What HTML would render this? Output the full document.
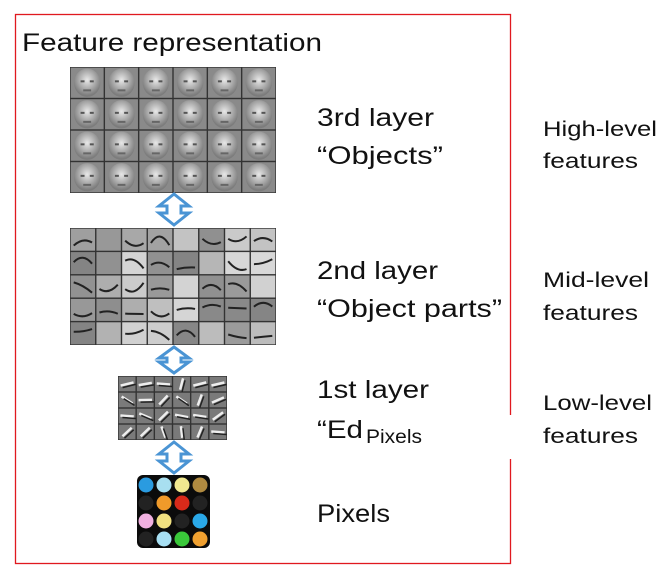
<!DOCTYPE html>
<html><head><meta charset="utf-8"><style>
html,body{margin:0;padding:0;background:#fff;}
svg{display:block;}
text{font-family:"Liberation Sans",sans-serif;fill:#111;}
</style></head><body>
<svg id="s" width="670" height="579" viewBox="0 0 670 579" xmlns="http://www.w3.org/2000/svg">
<defs>
<radialGradient id="face" cx="0.5" cy="0.4" r="0.55"><stop offset="0" stop-color="#e8e8e8"/><stop offset="0.6" stop-color="#a8a8a8"/><stop offset="1" stop-color="#7c7c7c"/></radialGradient>
<radialGradient id="part" cx="0.5" cy="0.5" r="0.6"><stop offset="0" stop-color="#c8c8c8"/><stop offset="1" stop-color="#8a8a8a"/></radialGradient>
</defs>
<rect x="15.5" y="14.5" width="495" height="549" fill="none" stroke="#e0191f" stroke-width="1.3"/>
<text x="22" y="51" font-size="25" textLength="300" lengthAdjust="spacingAndGlyphs">Feature representation</text>
<g id="faces"></g>
<g id="parts"></g>
<g id="edges"></g>
<g id="pix"></g>
<g fill="#fff" stroke="#4a94d4" stroke-width="3" stroke-linejoin="miter">
<path d="M174,194 L189,206 L181,206 L181,213 L189,213 L174,225 L159,213 L167,213 L167,206 L159,206 Z"/>
<path d="M174,347 L189,358 L181,358 L181,362 L189,362 L174,373 L159,362 L167,362 L167,358 L159,358 Z"/>
<path d="M174,442 L189,454 L181,454 L181,461 L189,461 L174,473 L159,461 L167,461 L167,454 L159,454 Z"/>
</g>
<text x="317" y="126" font-size="25" textLength="117" lengthAdjust="spacingAndGlyphs">3rd layer</text>
<text x="317" y="164" font-size="25" textLength="126" lengthAdjust="spacingAndGlyphs">“Objects”</text>
<text x="317" y="279" font-size="25" textLength="121" lengthAdjust="spacingAndGlyphs">2nd layer</text>
<text x="317" y="317" font-size="25" textLength="185" lengthAdjust="spacingAndGlyphs">“Object parts”</text>
<text x="317" y="398" font-size="25" textLength="112" lengthAdjust="spacingAndGlyphs">1st layer</text>
<text x="317" y="438" font-size="25" textLength="46" lengthAdjust="spacingAndGlyphs">“Ed</text>
<rect x="365" y="415" width="150" height="44" fill="#fff"/>
<text x="366" y="443" font-size="19" textLength="56" lengthAdjust="spacingAndGlyphs">Pixels</text>
<text x="317" y="522" font-size="25" textLength="73" lengthAdjust="spacingAndGlyphs">Pixels</text>
<text x="543" y="136" font-size="21" textLength="114" lengthAdjust="spacingAndGlyphs">High-level</text>
<text x="543" y="168" font-size="21" textLength="95" lengthAdjust="spacingAndGlyphs">features</text>
<text x="543" y="287" font-size="21" textLength="106" lengthAdjust="spacingAndGlyphs">Mid-level</text>
<text x="543" y="320" font-size="21" textLength="95" lengthAdjust="spacingAndGlyphs">features</text>
<text x="543" y="410" font-size="21" textLength="109" lengthAdjust="spacingAndGlyphs">Low-level</text>
<text x="543" y="443" font-size="21" textLength="95" lengthAdjust="spacingAndGlyphs">features</text>
</svg>
<script>
var NS="http://www.w3.org/2000/svg";
function el(p,t,a){var e=document.createElementNS(NS,t);for(var k in a)e.setAttribute(k,a[k]);p.appendChild(e);return e;}
function grid(id,x,y,w,h,c,r,fn){var g=document.getElementById(id);el(g,"rect",{x:x,y:y,width:w,height:h,fill:"#333"});
var cw=w/c,ch=h/r;for(var i=0;i<r;i++)for(var j=0;j<c;j++){fn(g,x+j*cw+0.7,y+i*ch+0.7,cw-1.4,ch-1.4,i,j);}}
grid("faces",70,67,206,126,6,4,function(g,x,y,w,h){el(g,"rect",{x:x,y:y,width:w,height:h,fill:"#8a8a8a"});
el(g,"ellipse",{cx:x+w/2,cy:y+h/2,rx:w*0.4,ry:h*0.47,fill:"url(#face)"});
el(g,"rect",{x:x+w*0.3,y:y+h*0.42,width:w*0.12,height:2,fill:"#555"});el(g,"rect",{x:x+w*0.58,y:y+h*0.42,width:w*0.12,height:2,fill:"#555"});
el(g,"rect",{x:x+w*0.38,y:y+h*0.72,width:w*0.24,height:2,fill:"#666"});});
var seed=3;function rnd(){seed=(seed*9301+49297)%233280;return seed/233280;}
grid("parts",70,228,206,117,8,5,function(g,x,y,w,h){var v=Math.floor(130+rnd()*90);el(g,"rect",{x:x,y:y,width:w,height:h,fill:"rgb("+v+","+v+","+v+")"});
if(rnd()<0.7)el(g,"path",{d:"M"+(x+3)+","+(y+h*(0.3+rnd()*0.5))+" Q"+(x+w/2)+","+(y+rnd()*h)+" "+(x+w-3)+","+(y+h*(0.3+rnd()*0.5)),stroke:"#222",fill:"none","stroke-width":2});});
grid("edges",118,376,109,64,6,4,function(g,x,y,w,h){el(g,"rect",{x:x,y:y,width:w,height:h,fill:"#7a7a7a"});
var a=rnd()*Math.PI,cx=x+w/2,cy=y+h/2,dx=Math.cos(a)*w*0.4,dy=Math.sin(a)*h*0.4;
el(g,"line",{x1:cx-dx,y1:cy-dy,x2:cx+dx,y2:cy+dy,stroke:"#eee","stroke-width":2.5});el(g,"line",{x1:cx-dx+2,y1:cy-dy+2,x2:cx+dx+2,y2:cy+dy+2,stroke:"#222","stroke-width":1.5});});
var p=document.getElementById("pix");el(p,"rect",{x:137,y:475,width:73,height:73,rx:6,fill:"#0b0b0b"});
var cols=[["#2a9be0","#a8dff0","#f0e890","#b08a40"],["#222","#f09a2a","#d82a1a","#222"],["#f0b0e0","#f0e080","#222","#2aa8e8"],["#222","#a8e0f4","#3ac83a","#f0a030"]];
for(var i=0;i<4;i++)for(var j=0;j<4;j++)el(p,"circle",{cx:146+j*18,cy:485+i*18,r:7.5,fill:cols[i][j]});
</script>
</body></html>
